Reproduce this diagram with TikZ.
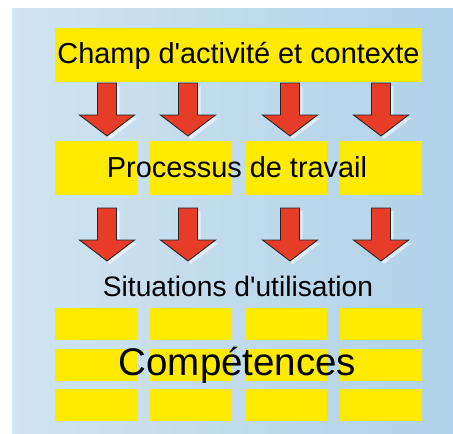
\documentclass[tikz,border=0pt]{standalone}
\usepackage{fontspec}
\setmainfont{Liberation Sans}
\begin{document}
\begin{tikzpicture}[x=1pt,y=-1pt,
  ybox/.style={fill=boxyellow,draw=none},
  redarrow/.style={fill=arrowred,draw=black!85,line width=0.9pt,line join=miter},
  glow/.style={fill=white,opacity=0.55,draw=none},
  lbl/.style={inner sep=0pt,text=black}]
\definecolor{boxyellow}{RGB}{255,234,0}
\definecolor{arrowred}{RGB}{230,60,40}
\definecolor{bgleft}{RGB}{208,228,241}
\definecolor{bgright}{RGB}{176,210,232}
\useasboundingbox (0,0) rectangle (453,434);
\fill[white] (0,0) rectangle (453,434);
\shade[left color=bgleft,right color=bgright] (12,8) rectangle (453,434);
% top box
\fill[ybox] (55,28) rectangle (422,82);
\node[lbl,font=\fontsize{28.9}{30}\selectfont] (champ) at (238.5,56) {Champ d\textquotesingle activité et contexte};
% row 2 boxes
\foreach \x/\n in {55/a,150/b,245/c,340/d}{
  \fill[ybox] (\x,141) rectangle ++(82,54);
}
\node[lbl,font=\fontsize{28.9}{30}\selectfont] (proc) at (237,167) {Processus de travail};
% arrows
\foreach \cx in {107,188,290,381}{
  \foreach \yo in {83,208}{
    \fill[glow] (\cx-9.5+3,\yo+3) -- (\cx+9.5+3,\yo+3) -- (\cx+9.5+3,\yo+32+3) -- (\cx+27.5+3,\yo+32+3) -- (\cx+3,\yo+53+3) -- (\cx-27.5+3,\yo+32+3) -- (\cx-9.5+3,\yo+32+3) -- cycle;
    \draw[redarrow] (\cx-9.5,\yo) -- (\cx+9.5,\yo) -- (\cx+9.5,\yo+32) -- (\cx+27.5,\yo+32) -- (\cx,\yo+53) -- (\cx-27.5,\yo+32) -- (\cx-9.5,\yo+32) -- cycle;
  }
}
\node[lbl,font=\fontsize{28.2}{30}\selectfont] (sit) at (238,286) {Situations d\textquotesingle utilisation};
% competence grid
\foreach \x in {55,150,245,340}{
  \foreach \y in {308,349,389}{
    \fill[ybox] (\x,\y) rectangle ++(82,31.5);
  }
}
\node[lbl,font=\fontsize{38.5}{40}\selectfont] (comp) at (237.5,365) {Compétences};
\end{tikzpicture}
\end{document}
